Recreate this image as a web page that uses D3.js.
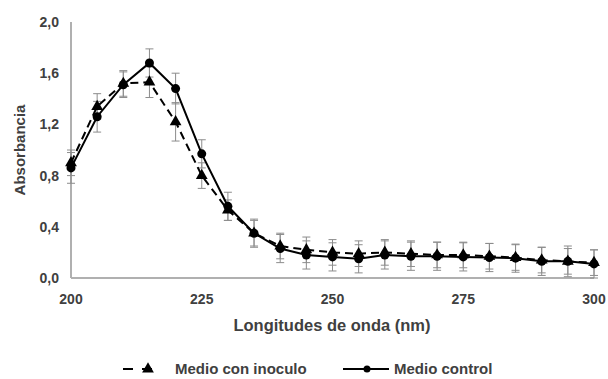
<!DOCTYPE html>
<html>
<head>
<meta charset="utf-8">
<script src="https://cdn.jsdelivr.net/npm/d3@7"></script>
<style>
  body { margin: 0; background: #fff; }
  text { font-family: "Liberation Sans", Arial, sans-serif; font-weight: bold; fill: #404040; }
</style>
</head>
<body>
<div id="chart"></div>
<script>
// wavelengths (nm)
const wavelengths = [200, 205, 210, 215, 220, 225, 230, 235, 240, 245, 250,
                     255, 260, 265, 270, 275, 280, 285, 290, 295, 300];
// Medio con inoculo (dashed, triangles)
const inoculo = [0.90, 1.34, 1.52, 1.53, 1.22, 0.80, 0.53, 0.35, 0.25, 0.22, 0.20,
                 0.19, 0.20, 0.19, 0.18, 0.18, 0.17, 0.16, 0.14, 0.13, 0.12];
const inoculoErr = [0.10, 0.10, 0.10, 0.12, 0.15, 0.10, 0.08, 0.10, 0.10, 0.10, 0.10,
                    0.10, 0.10, 0.10, 0.10, 0.10, 0.10, 0.10, 0.10, 0.10, 0.10];
// Medio control (solid, circles)
const control = [0.86, 1.26, 1.51, 1.68, 1.48, 0.97, 0.56, 0.35, 0.23, 0.18, 0.165,
                 0.15, 0.18, 0.17, 0.17, 0.165, 0.16, 0.155, 0.13, 0.13, 0.11];
const controlErr = [0.12, 0.12, 0.10, 0.11, 0.12, 0.11, 0.11, 0.11, 0.11, 0.11, 0.11,
                    0.11, 0.11, 0.11, 0.11, 0.11, 0.11, 0.11, 0.11, 0.12, 0.11];
const xTicks = [200, 225, 250, 275, 300];
const yTicks = [0, 0.4, 0.8, 1.2, 1.6, 2.0];

const width = 608, height = 379;
const margin = { top: 22, right: 14, bottom: 101, left: 71 };

const svg = d3.select("#chart").append("svg")
  .attr("width", width)
  .attr("height", height);

const x = d3.scaleLinear()
  .domain([200, 300])
  .range([margin.left, width - margin.right]);

const y = d3.scaleLinear()
  .domain([0, 2])
  .range([height - margin.bottom, margin.top]);

const fmt = v => d3.format(".1f")(v).replace(".", ",");

// axes (plain gray lines, no tick marks)
svg.append("line")
  .attr("x1", x(200)).attr("x2", x(300))
  .attr("y1", y(0)).attr("y2", y(0))
  .attr("stroke", "#b0b0b0").attr("stroke-width", 2);
svg.append("line")
  .attr("x1", x(200)).attr("x2", x(200))
  .attr("y1", y(0)).attr("y2", y(2))
  .attr("stroke", "#b0b0b0").attr("stroke-width", 2);

svg.selectAll(".ytick")
  .data(yTicks)
  .enter().append("text")
  .attr("x", margin.left - 12)
  .attr("y", d => y(d))
  .attr("dy", "0.35em")
  .attr("text-anchor", "end")
  .style("font-size", "14px")
  .text(fmt);

svg.selectAll(".xtick")
  .data(xTicks)
  .enter().append("text")
  .attr("x", d => x(d))
  .attr("y", y(0) + 21)
  .attr("dy", "0.35em")
  .attr("text-anchor", "middle")
  .style("font-size", "14px")
  .text(d => d);

svg.append("text")
  .attr("x", 332)
  .attr("y", 325)
  .attr("dy", "0.35em")
  .attr("text-anchor", "middle")
  .style("font-size", "16.5px")
  .text("Longitudes de onda (nm)");

svg.append("text")
  .attr("transform", `translate(20, ${(y(0) + y(2)) / 2}) rotate(-90)`)
  .attr("dy", "0.35em")
  .attr("text-anchor", "middle")
  .style("font-size", "15px")
  .text("Absorbancia");

const series = [
  { name: "Medio con inoculo", values: inoculo, errs: inoculoErr, dash: "8,5", marker: "triangle" },
  { name: "Medio control", values: control, errs: controlErr, dash: null, marker: "circle" }
];

// error bars
series.forEach(s => {
  const g = svg.append("g").attr("stroke", "#8c8c8c").attr("stroke-width", 1);
  wavelengths.forEach((w, i) => {
    const cx = x(w), top = y(s.values[i] + s.errs[i]), bot = y(s.values[i] - s.errs[i]);
    g.append("line").attr("x1", cx).attr("x2", cx).attr("y1", top).attr("y2", bot);
    g.append("line").attr("x1", cx - 4).attr("x2", cx + 4).attr("y1", top).attr("y2", top);
    g.append("line").attr("x1", cx - 4).attr("x2", cx + 4).attr("y1", bot).attr("y2", bot);
  });
});

const line = d3.line()
  .x((d, i) => x(wavelengths[i]))
  .y(d => y(d));

const triangle = d3.symbol().type(d3.symbolTriangle).size(60);

series.forEach(s => {
  svg.append("path")
    .datum(s.values)
    .attr("fill", "none")
    .attr("stroke", "#000")
    .attr("stroke-width", 2)
    .attr("stroke-dasharray", s.dash)
    .attr("d", line);

  if (s.marker === "circle") {
    svg.selectAll(null)
      .data(s.values)
      .enter().append("circle")
      .attr("cx", (d, i) => x(wavelengths[i]))
      .attr("cy", d => y(d))
      .attr("r", 4.5)
      .attr("fill", "#000");
  } else {
    svg.selectAll(null)
      .data(s.values)
      .enter().append("path")
      .attr("d", triangle)
      .attr("transform", (d, i) => `translate(${x(wavelengths[i])},${y(d)})`)
      .attr("fill", "#000");
  }
});

// legend
const legY = 369;
const leg1 = svg.append("g");
leg1.append("line")
  .attr("x1", 123).attr("x2", 156).attr("y1", legY).attr("y2", legY)
  .attr("stroke", "#000").attr("stroke-width", 2).attr("stroke-dasharray", "10,9");
leg1.append("path")
  .attr("d", triangle)
  .attr("transform", `translate(148,${legY})`)
  .attr("fill", "#000");
leg1.append("text")
  .attr("x", 175).attr("y", legY).attr("dy", "0.35em")
  .style("font-size", "15px")
  .text(series[0].name);

const leg2 = svg.append("g");
leg2.append("line")
  .attr("x1", 343).attr("x2", 389).attr("y1", legY).attr("y2", legY)
  .attr("stroke", "#000").attr("stroke-width", 2);
leg2.append("circle")
  .attr("cx", 367).attr("cy", legY).attr("r", 3.5).attr("fill", "#000");
leg2.append("text")
  .attr("x", 394).attr("y", legY).attr("dy", "0.35em")
  .style("font-size", "15px")
  .text(series[1].name);
</script>
</body>
</html>
